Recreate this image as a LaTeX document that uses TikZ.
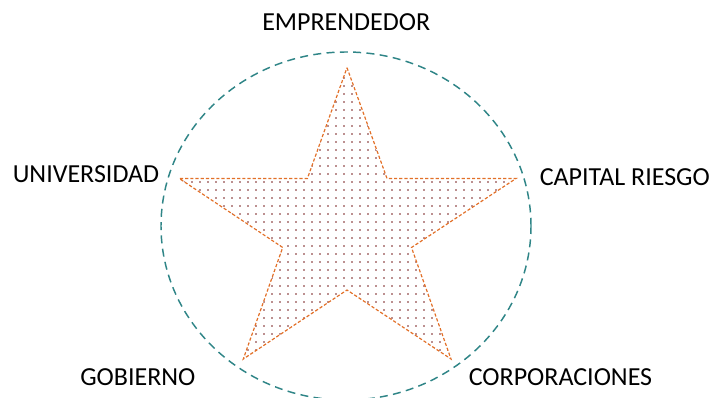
\documentclass[tikz,border=0pt]{standalone}
\usepackage{fontspec}
\setmainfont{Carlito}
\usetikzlibrary{patterns}
\definecolor{ringcol}{RGB}{47,133,135}
\definecolor{starcol}{RGB}{226,112,40}
\definecolor{dotcol}{RGB}{120,30,30}
\pgfdeclarepatternformonly{stardots}{\pgfqpoint{-1pt}{-1pt}}{\pgfqpoint{1pt}{1pt}}{\pgfqpoint{6pt}{6pt}}{%
  \pgfpathcircle{\pgfqpoint{0pt}{0pt}}{0.6pt}\pgfusepath{fill}}
\tikzset{
  lbl/.style={anchor=base west, inner sep=0pt, font=\fontsize{19.5pt}{22pt}\selectfont, text=black},
  ring/.style={draw=ringcol, line width=1.1pt, dash pattern=on 6pt off 4pt},
  starshape/.style={draw=starcol, line width=0.9pt, dash pattern=on 2.4pt off 1.5pt, pattern=stardots, pattern color=dotcol}
}
\begin{document}
\begin{tikzpicture}[x=0.75pt,y=-0.75pt]
\useasboundingbox (0,0) rectangle (713,398);
\draw[ring] (346,226) ellipse [x radius=185, y radius=174];
\draw[starshape] (347,67.7) -- (387,178.5) -- (516,178.5) -- (411.5,247.5) -- (451,359)
  -- (347,290) -- (243.3,359) -- (282.7,247.5) -- (179.3,178.5) -- (307.4,178.5) -- cycle;
\node[lbl] (emp) at (262,31) {EMPRENDEDOR};
\node[lbl] (uni) at (12.5,182.7) {UNIVERSIDAD};
\node[lbl] (cap) at (539.5,186) {CAPITAL RIESGO};
\node[lbl] (gob) at (80,386) {GOBIERNO};
\node[lbl] (cor) at (468.5,386) {CORPORACIONES};
\end{tikzpicture}
\end{document}
